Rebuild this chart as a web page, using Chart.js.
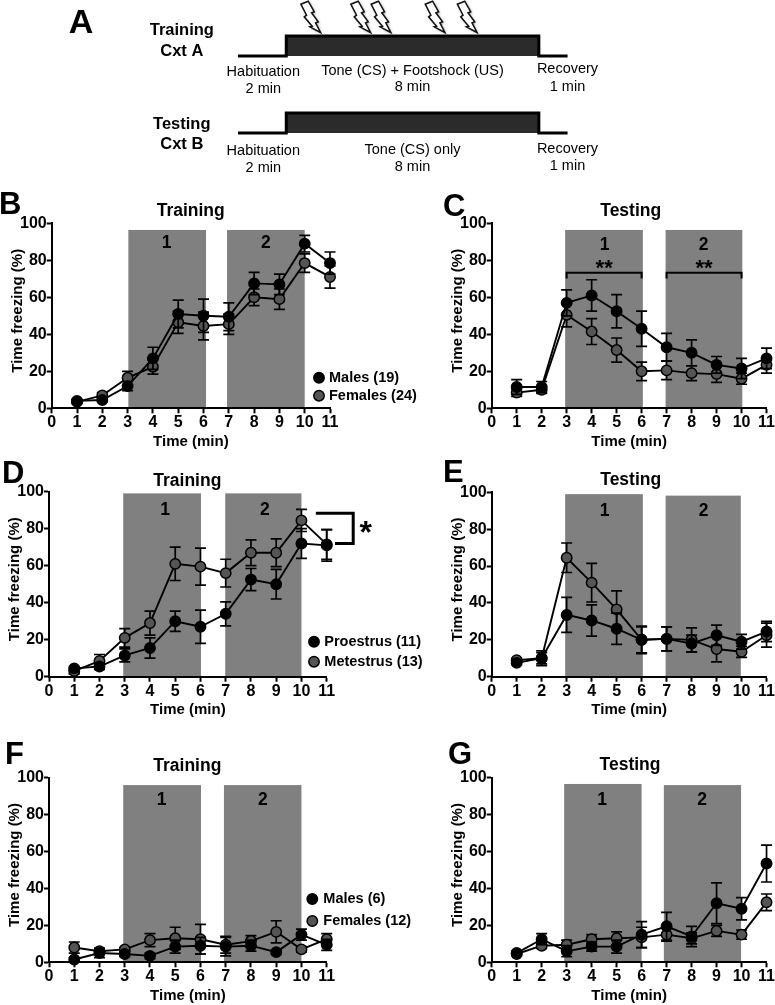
<!DOCTYPE html>
<html>
<head>
<meta charset="utf-8">
<script src="https://cdn.jsdelivr.net/npm/chart.js@4"></script>
<style>
    html, body { margin: 0; padding: 0; background: #fff; overflow: hidden; }
    #page { position: relative; width: 775px; height: 1005px; }
    canvas { position: absolute; filter: blur(0.35px); }
</style>
</head>
<body>
<div id="page"></div>
<script>
const FONT = '"Liberation Sans", Arial, sans-serif'
const minutes = [1, 2, 3, 4, 5, 6, 7, 8, 9, 10, 11]

//Panel B
const bMales = [4, 4.5, 12, 27, 51, 50, 49.5, 67.5, 67, 89, 78.5]
const bMalesErr = [1, 1, 2.5, 6, 7.5, 9, 7.5, 6, 5.5, 4.5, 6]
const bFemales = [3.5, 7, 16.5, 22.5, 46.5, 44.5, 45.5, 60, 59, 78.5, 71]
const bFemalesErr = [1, 1.5, 3.5, 4, 6, 7.5, 5.5, 4.5, 5.5, 5, 6]
//Panel C
const cMales = [11.5, 11.5, 57, 61, 52.5, 43, 33, 30, 23.5, 21.5, 27]
const cMalesErr = [4, 3, 7, 8.5, 9, 9.5, 7.5, 7, 4.5, 5.5, 5.5]
const cFemales = [8.5, 10, 50.5, 41.5, 31.5, 20, 20.5, 19, 18.5, 16, 23.5]
const cFemalesErr = [2, 2, 6.5, 7, 6.5, 5, 5, 4, 4.5, 3, 4.5]
//Panel D
const dProestrus = [4.5, 5.5, 11.5, 15.5, 30, 27, 34, 52.5, 50, 72, 71]
const dProestrusErr = [1, 1.5, 3.5, 5.5, 5.5, 9, 6.5, 6, 8, 8, 8.5]
const dMetestrus = [3, 8.5, 21, 29, 61, 59.5, 56, 67, 67, 84.5, 71.5]
const dMetestrusErr = [1.5, 3.5, 5, 6.5, 9, 10, 7.5, 7, 7.5, 6, 8]
//Panel E
const eProestrus = [7.5, 10, 33.5, 30.5, 26, 20, 20.5, 18, 22.5, 19, 24.5]
const eProestrusErr = [1, 3, 9.5, 8.5, 8.5, 7.5, 6.5, 4.5, 5.5, 4, 5.5]
const eMetestrus = [9, 10, 64.5, 51, 36.5, 20, 20.5, 20, 15, 13.5, 22.5]
const eMetestrusErr = [1, 4, 8, 10.5, 10, 7, 6.5, 6.5, 7, 3, 6.5]
//Panel F
const fMales = [1.5, 5, 4.5, 3.5, 8.5, 9, 8.5, 9, 5.5, 15, 9.5]
const fMalesErr = [1, 2.5, 1.5, 1.5, 3.5, 4.5, 5, 3, 1, 3, 3]
const fFemales = [8, 6, 7, 12, 13, 12.5, 9.5, 11.5, 16.5, 7, 12.5]
const fFemalesErr = [3, 1.5, 1, 3.5, 6, 8, 4.5, 3, 6, 1.5, 3]
//Panel G
const gMales = [5, 12.5, 6, 8.5, 8.5, 15, 19.5, 14, 32, 29, 53.5]
const gMalesErr = [1, 3, 3, 2.5, 3.5, 7, 7.5, 5.5, 11, 6, 10]
const gFemales = [4.5, 9, 9.5, 12.5, 13, 13.5, 15, 13, 17, 15, 32.5]
const gFemalesErr = [1, 1.5, 2.5, 2.5, 3.5, 5.5, 3.5, 3, 3, 2.5, 4.5]

//Panel A, schedule in schematic units
const traceX = [0, 2, 2, 12.46, 12.46, 13.65]
const trainingTrace = [129, 129, 149, 149, 129, 129]
const testingTrace = [52, 52, 72, 72, 52, 52]
const shockTimes = [3.42, 5.49, 6.33, 8.57, 9.9]

function text(ctx, str, x, y, size, bold, align) {
    ctx.save()
    ctx.font = (bold ? 'bold ' : '') + size + 'px ' + FONT
    ctx.fillStyle = '#000'
    ctx.textAlign = align || 'center'
    ctx.textBaseline = 'middle'
    ctx.fillText(str, x, y)
    ctx.restore()
}

const panelPlugin = {
    id: 'panel',
    beforeDraw(chart) {
        const p = chart.config.options.panel
        const {ctx, scales: {x, y}} = chart
        ctx.save()
        ctx.fillStyle = '#808080'
        for (let band of p.bands) {
            ctx.fillRect(x.getPixelForValue(band[0]), y.getPixelForValue(band[2]),
                x.getPixelForValue(band[1]) - x.getPixelForValue(band[0]),
                y.getPixelForValue(0) - y.getPixelForValue(band[2]))
        }
        ctx.restore()
        p.bandLabels.forEach((pos, i) => {
            text(ctx, String(i + 1), x.getPixelForValue(pos), y.getPixelForValue(p.bandLabelY), 17.5, true)
        })
    },
    beforeDatasetDraw(chart, args) {
        const {ctx, scales: {x, y}} = chart
        const ds = chart.data.datasets[args.index]
        ctx.save()
        ctx.strokeStyle = '#000'
        ctx.lineWidth = 1.7
        ctx.beginPath()
        ds.data.forEach((d, i) => {
            const px = x.getPixelForValue(d.x)
            const top = y.getPixelForValue(d.y + ds.errors[i])
            const bot = y.getPixelForValue(d.y - ds.errors[i])
            ctx.moveTo(px, top); ctx.lineTo(px, bot)
            ctx.moveTo(px - 5.5, top); ctx.lineTo(px + 5.5, top)
            ctx.moveTo(px - 5.5, bot); ctx.lineTo(px + 5.5, bot)
        })
        ctx.stroke()
        ctx.restore()
    },
    afterDraw(chart) {
        const p = chart.config.options.panel
        const {ctx, scales: {x, y}} = chart
        text(ctx, p.letter[0], p.letter[1] - p.left, p.letter[2] - p.top, 31, true, 'left')
        text(ctx, p.title[0], p.title[1] - p.left, p.title[2] - p.top, 17.5, true)

        //y axis title sits a little above the middle of the axis in the original
        ctx.save()
        ctx.translate(p.x0 - p.left - 34, (y.top + y.bottom) / 2 - 5)
        ctx.rotate(-Math.PI / 2)
        text(ctx, 'Time freezing (%)', 0, 0, 15, true)
        ctx.restore()

        //Legend, read from the datasets
        if (p.legend) {
            chart.data.datasets.forEach((ds, i) => {
                const ly = p.legend.y[i] - p.top
                ctx.save()
                ctx.beginPath()
                ctx.arc(p.legend.marker - p.left, ly, 5.2, 0, Math.PI * 2)
                ctx.fillStyle = ds.pointBackgroundColor
                ctx.fill()
                ctx.lineWidth = 1.5
                ctx.strokeStyle = '#000'
                ctx.stroke()
                ctx.restore()
                text(ctx, ds.label, p.legend.text - p.left, ly, 14.5, true, 'left')
            })
        }

        //Significance brackets
        ctx.save()
        ctx.strokeStyle = '#000'
        ctx.lineWidth = 2
        for (let b of p.brackets || []) {
            ctx.beginPath()
            ctx.moveTo(x.getPixelForValue(b[0]), y.getPixelForValue(b[2] - 3.2))
            ctx.lineTo(x.getPixelForValue(b[0]), y.getPixelForValue(b[2]))
            ctx.lineTo(x.getPixelForValue(b[1]), y.getPixelForValue(b[2]))
            ctx.lineTo(x.getPixelForValue(b[1]), y.getPixelForValue(b[2] - 3.2))
            ctx.stroke()
            text(ctx, '**', x.getPixelForValue((b[0] + b[1]) / 2), y.getPixelForValue(b[2] + 1.8), 22, true)
        }
        if (p.sideBracket) {
            const s = p.sideBracket
            ctx.lineWidth = 3
            ctx.beginPath()
            ctx.moveTo(x.getPixelForValue(s.x1), y.getPixelForValue(s.hi))
            ctx.lineTo(x.getPixelForValue(s.x3), y.getPixelForValue(s.hi))
            ctx.lineTo(x.getPixelForValue(s.x3), y.getPixelForValue(s.lo))
            ctx.lineTo(x.getPixelForValue(s.x2), y.getPixelForValue(s.lo))
            ctx.stroke()
            text(ctx, '*', x.getPixelForValue(12.55), y.getPixelForValue(77), 32, true)
        }
        ctx.restore()
    }
}

function series(label, values, errors, color) {
    return {
        label,
        errors,
        data: values.map((v, i) => ({x: minutes[i], y: v})),
        borderColor: '#000',
        borderWidth: 1.9,
        pointRadius: 5.2,
        pointBorderWidth: 1.5,
        pointBorderColor: '#000',
        pointBackgroundColor: color,
        showLine: true,
        tension: 0,
        clip: false
    }
}

function makePanel(p, datasets) {
    const width = p.left < 100 ? 430 : 345
    const height = p.top > 700 ? 280 : 275
    const yWidth = 46, xHeight = 45
    const canvas = document.createElement('canvas')
    canvas.width = width
    canvas.height = height
    canvas.style.left = p.left + 'px'
    canvas.style.top = p.top + 'px'
    document.getElementById('page').appendChild(canvas)
    new Chart(canvas, {
        type: 'scatter',
        data: {datasets},
        plugins: [panelPlugin],
        options: {
            panel: p,
            responsive: false,
            animation: false,
            layout: {
                padding: {
                    left: p.x0 - p.left - yWidth,
                    right: p.left + width - p.x11,
                    top: p.y100 - p.top,
                    bottom: p.top + height - p.y0 - xHeight
                }
            },
            plugins: {legend: {display: false}, tooltip: {enabled: false}},
            scales: {
                x: {
                    type: 'linear',
                    min: 0,
                    max: 11,
                    afterFit(scale) { scale.height = xHeight },
                    border: {color: '#000', width: 2},
                    grid: {drawOnChartArea: false, tickLength: 5, tickWidth: 2, tickColor: '#000'},
                    ticks: {stepSize: 1, autoSkip: false, maxRotation: 0, padding: 0, color: '#000',
                        font: {family: FONT, weight: 'bold', size: 16}},
                    title: {display: true, text: 'Time (min)', color: '#000', padding: {top: 0, bottom: 2.6},
                        font: {family: FONT, weight: 'bold', size: 15}}
                },
                y: {
                    min: 0,
                    max: 100,
                    afterFit(scale) { scale.width = yWidth },
                    border: {color: '#000', width: 2},
                    grid: {drawOnChartArea: false, tickLength: 5, tickWidth: 2, tickColor: '#000'},
                    ticks: {stepSize: 20, padding: 0, color: '#000',
                        font: {family: FONT, weight: 'bold', size: 16}}
                }
            }
        }
    })
}

const GREY = '#555555', BLACK = '#000000'

makePanel({left: 0, top: 185, x0: 51.7, x11: 330, y100: 223.3, y0: 408.3,
    letter: ['B', -1, 205], title: ['Training', 190.7, 211],
    bands: [[3.03, 6.1, 96.4], [6.93, 10, 96.4]], bandLabels: [4.54, 8.47], bandLabelY: 89,
    legend: {marker: 319, text: 329, y: [377.7, 395.7]}},
    [series('Males (19)', bMales, bMalesErr, BLACK), series('Females (24)', bFemales, bFemalesErr, GREY)])

makePanel({left: 430, top: 185, x0: 491.7, x11: 769.3, y100: 223.3, y0: 408.3,
    letter: ['C', 443, 207], title: ['Testing', 630.7, 211],
    bands: [[2.94, 6.05, 96.4], [6.96, 10.03, 96.4]], bandLabels: [4.52, 8.48], bandLabelY: 88,
    brackets: [[3, 6, 73.3], [7, 10, 73.3]]},
    [series('Males', cMales, cMalesErr, BLACK), series('Females', cFemales, cFemalesErr, GREY)])

makePanel({left: 0, top: 455, x0: 49, x11: 326.7, y100: 491.7, y0: 676.7,
    letter: ['D', 2, 474], title: ['Training', 187.3, 480.7],
    bands: [[2.94, 6.02, 99.1], [6.98, 10, 99.1]], bandLabels: [4.6, 8.55], bandLabelY: 90,
    legend: {marker: 314, text: 324.3, y: [641.7, 661.7]},
    sideBracket: {x1: 10.57, x2: 11.33, x3: 12.05, hi: 88.3, lo: 72}},
    [series('Proestrus (11)', dProestrus, dProestrusErr, BLACK), series('Metestrus (13)', dMetestrus, dMetestrusErr, GREY)])

makePanel({left: 430, top: 455, x0: 491.7, x11: 769.3, y100: 492.3, y0: 676.7,
    letter: ['E', 443, 473], title: ['Testing', 630.7, 480],
    bands: [[2.94, 6.05, 99], [6.96, 9.97, 98.2]], bandLabels: [4.52, 8.48], bandLabelY: 90},
    [series('Proestrus', eProestrus, eProestrusErr, BLACK), series('Metestrus', eMetestrus, eMetestrusErr, GREY)])

makePanel({left: 0, top: 730, x0: 49, x11: 326.7, y100: 777.7, y0: 962.3,
    letter: ['F', 5, 755], title: ['Training', 187.3, 766],
    bands: [[2.94, 6.02, 96], [6.93, 10, 96]], bandLabels: [4.46, 8.47], bandLabelY: 88,
    legend: {marker: 312.3, text: 323.3, y: [899, 921]}},
    [series('Males (6)', fMales, fMalesErr, BLACK), series('Females (12)', fFemales, fFemalesErr, GREY)])

makePanel({left: 430, top: 730, x0: 491.7, x11: 768.7, y100: 777.7, y0: 962.3,
    letter: ['G', 448, 755.7], title: ['Testing', 630, 765],
    bands: [[2.9, 6, 96.6], [6.89, 9.98, 96]], bandLabels: [4.42, 8.42], bandLabelY: 88},
    [series('Males', gMales, gMalesErr, BLACK), series('Females', gFemales, gFemalesErr, GREY)])

//Panel A: the schedule as a second small chart, with the text on top
const boltShape = [[0, 0], [-10.7, -5.7], [-8.3, -6.3], [-16.3, -15.7], [-14, -17.3], [-19.7, -28.3],
    [-12.3, -31.3], [-6.3, -20.7], [-9, -19.7], [-2.3, -10.7], [-5, -9.7]]

const schedulePlugin = {
    id: 'schedule',
    afterDraw(chart) {
        const {ctx, scales: {x, y}} = chart
        for (let t of shockTimes) {
            const tipX = x.getPixelForValue(t), tipY = y.getPixelForValue(152.5)
            ctx.save()
            ctx.beginPath()
            boltShape.forEach((b, i) => i ? ctx.lineTo(tipX + b[0], tipY + b[1]) : ctx.moveTo(tipX + b[0], tipY + b[1]))
            ctx.closePath()
            ctx.shadowColor = 'rgba(0,0,0,0.5)'
            ctx.shadowBlur = 3
            ctx.shadowOffsetX = 1
            ctx.shadowOffsetY = 1
            ctx.fillStyle = '#fff'
            ctx.fill()
            ctx.shadowColor = 'transparent'
            ctx.strokeStyle = '#111'
            ctx.lineWidth = 1.5
            ctx.stroke()
            ctx.restore()
        }
        text(ctx, 'A', 81.1, 23.3, 34, true)
        text(ctx, 'Training', 181.8, 30.7, 16.5, true)
        text(ctx, 'Cxt A', 181.8, 51.7, 16.5, true)
        text(ctx, 'Testing', 181.8, 124, 16.5, true)
        text(ctx, 'Cxt B', 181.8, 144, 16.5, true)
        text(ctx, 'Habituation', 263.3, 71.7, 14.5)
        text(ctx, '2 min', 263.3, 89, 14.5)
        text(ctx, 'Tone (CS) + Footshock (US)', 412.5, 70.7, 14.5)
        text(ctx, '8 min', 412.5, 87.3, 14.5)
        text(ctx, 'Recovery', 567.5, 69.3, 14.5)
        text(ctx, '1 min', 567.5, 86.7, 14.5)
        text(ctx, 'Habituation', 263.3, 151, 14.5)
        text(ctx, '2 min', 263.3, 167.7, 14.5)
        text(ctx, 'Tone (CS) only', 412.5, 150, 14.5)
        text(ctx, '8 min', 412.5, 166.7, 14.5)
        text(ctx, 'Recovery', 567.5, 149.3, 14.5)
        text(ctx, '1 min', 567.5, 166, 14.5)
    }
}

function trace(values) {
    return {
        data: values.map((v, i) => ({x: traceX[i], y: v})),
        showLine: true,
        tension: 0,
        pointRadius: 0,
        borderColor: '#000',
        borderWidth: 3,
        backgroundColor: '#2b2b2b',
        fill: {value: values[0]}
    }
}

const scheduleCanvas = document.createElement('canvas')
scheduleCanvas.width = 775
scheduleCanvas.height = 185
scheduleCanvas.style.left = '0px'
scheduleCanvas.style.top = '0px'
document.getElementById('page').appendChild(scheduleCanvas)
new Chart(scheduleCanvas, {
    type: 'scatter',
    data: {datasets: [trace(trainingTrace), trace(testingTrace)]},
    plugins: [schedulePlugin],
    options: {
        responsive: false,
        animation: false,
        plugins: {legend: {display: false}, tooltip: {enabled: false}, filler: {propagate: false}},
        scales: {
            x: {type: 'linear', display: false, min: -9.855, max: 22.24},
            y: {display: false, min: 0, max: 185}
        }
    }
})
</script>
</body>
</html>
